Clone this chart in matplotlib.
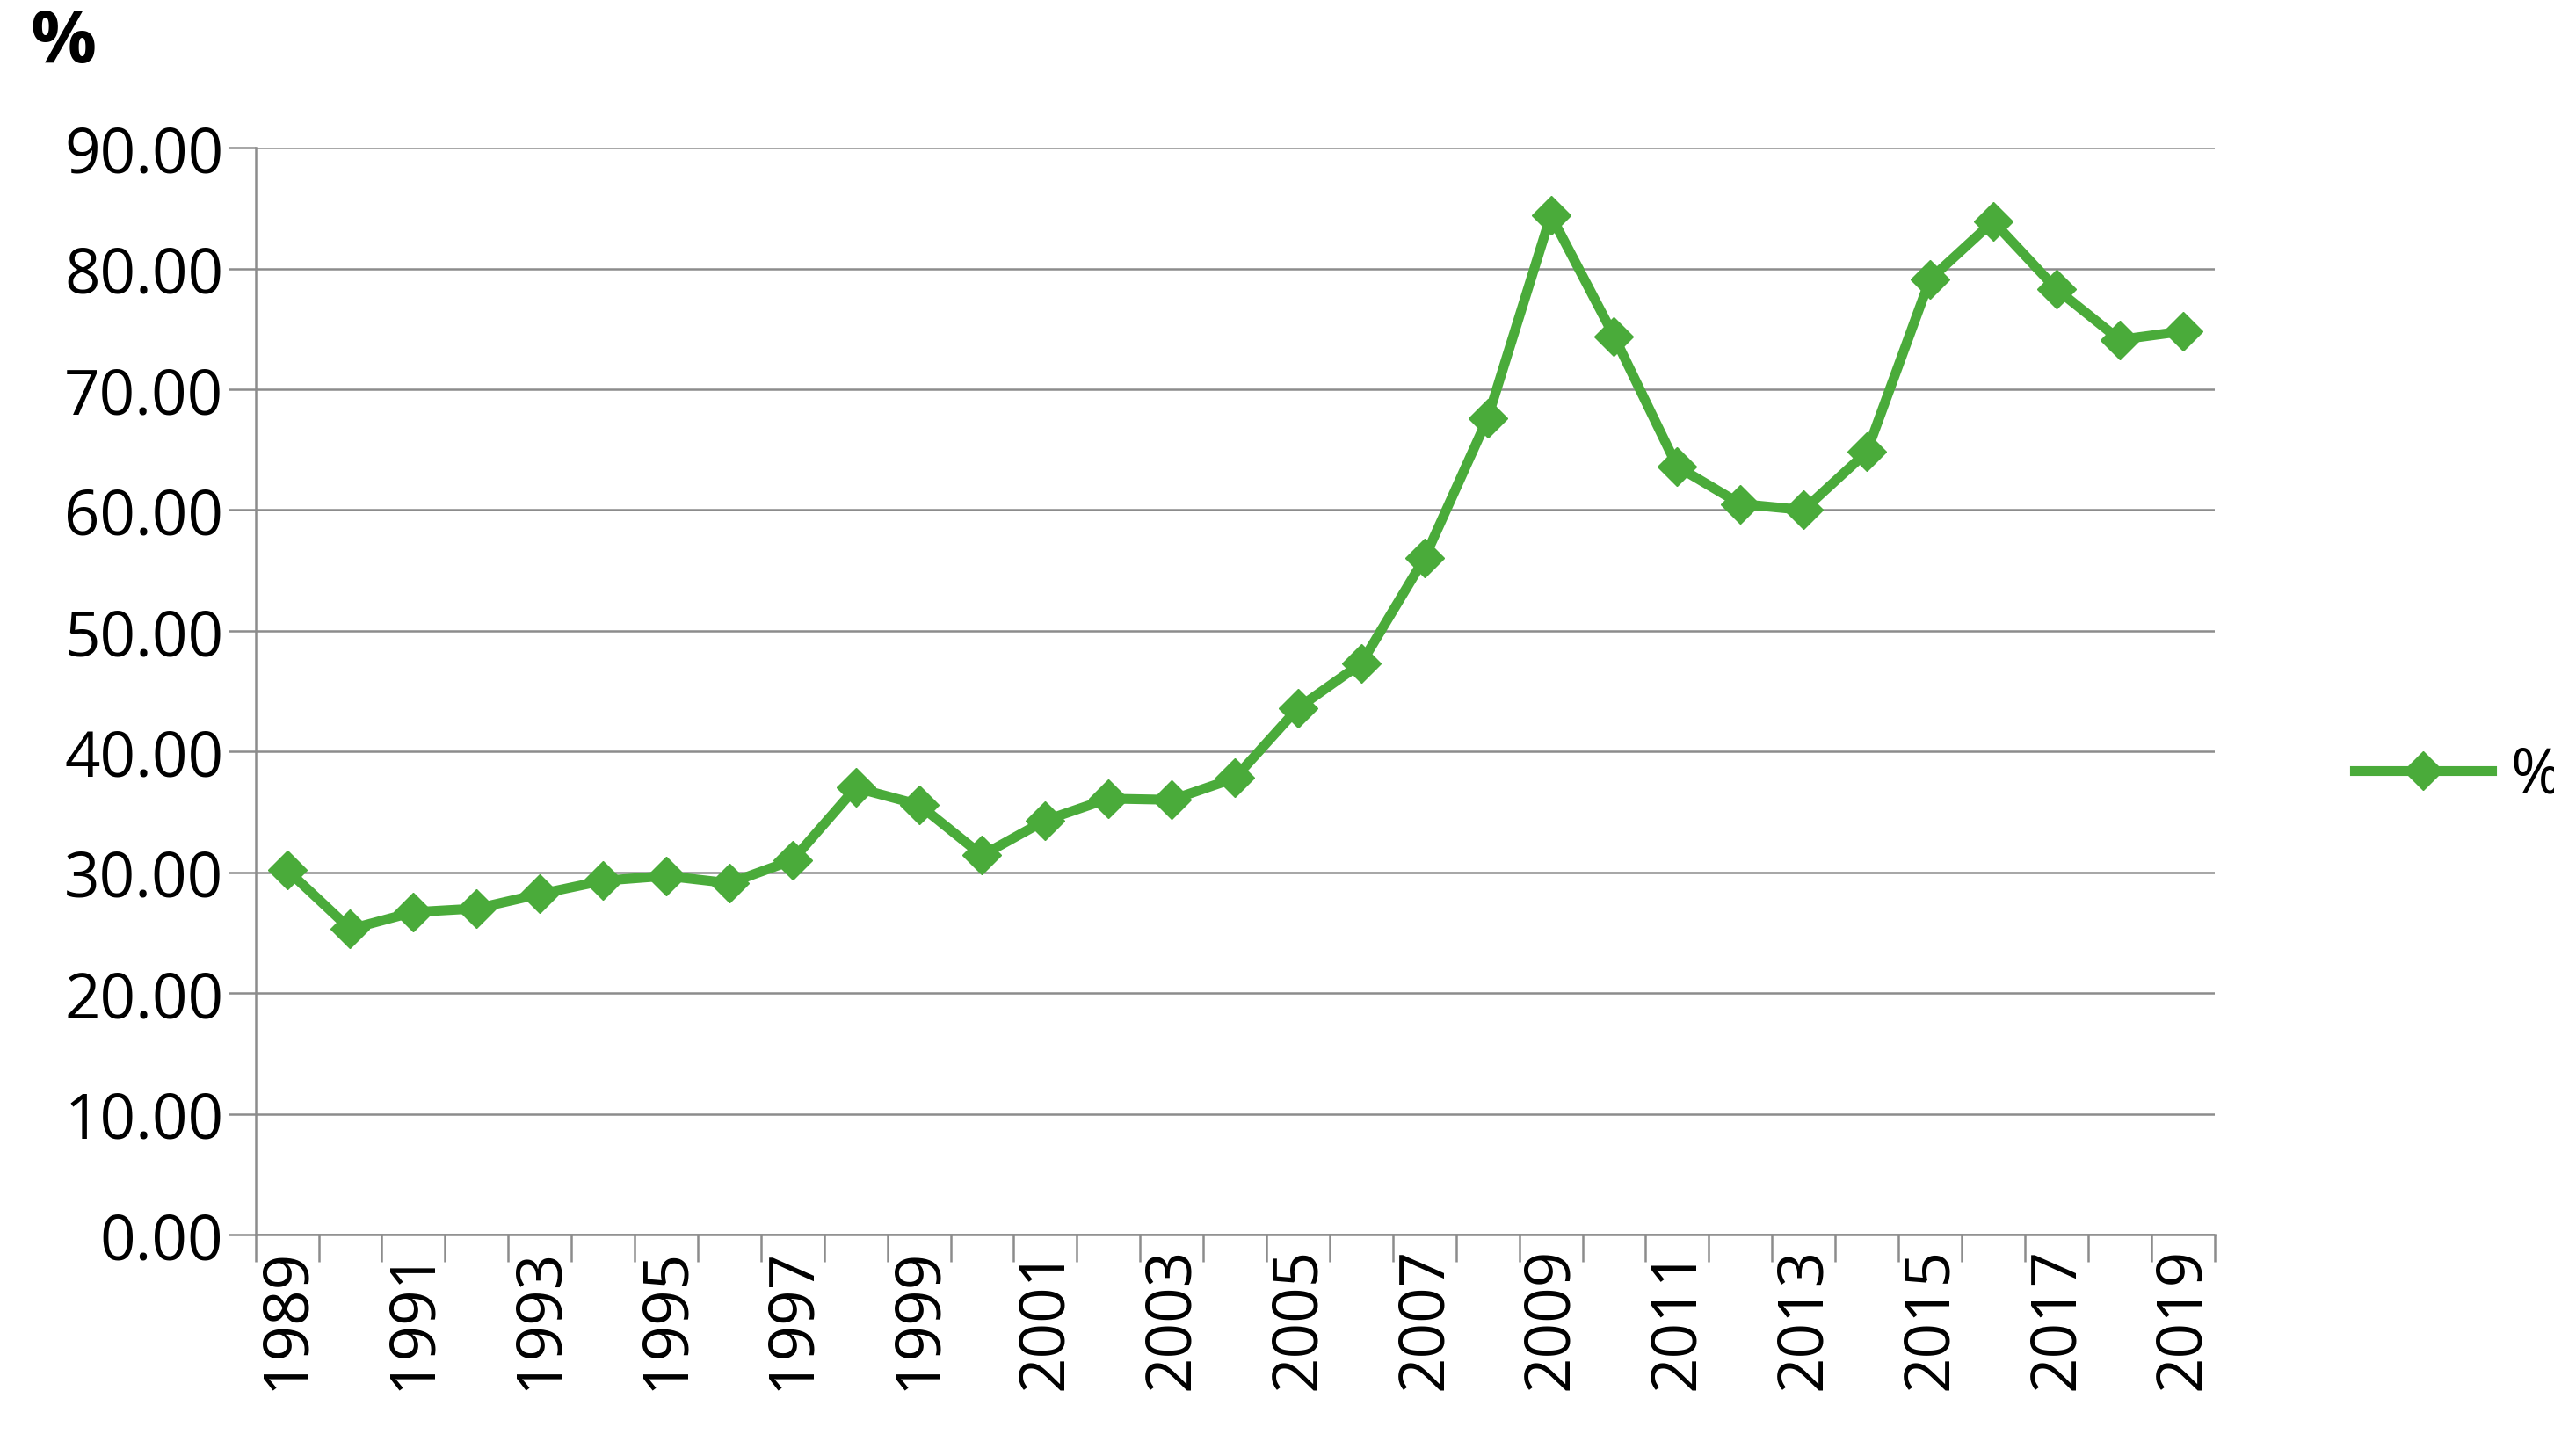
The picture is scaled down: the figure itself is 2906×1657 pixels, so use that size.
import matplotlib
matplotlib.use("Agg")
import matplotlib.pyplot as plt
import numpy as np

years = list(range(1989, 2020))
values = [30.2, 25.3, 26.7, 27.0, 28.2, 29.3, 29.7, 29.1, 31.0, 37.0, 35.6, 31.4,
          34.3, 36.1, 36.0, 37.8, 43.6, 47.3, 56.0, 67.6, 84.4, 74.4, 63.6, 60.5,
          60.0, 64.8, 79.1, 83.9, 78.3, 74.1, 74.8]
yticks = [0, 10, 20, 30, 40, 50, 60, 70, 80, 90]

plt.rcParams['font.family'] = ['Open Sans', 'DejaVu Sans']
fig = plt.figure(figsize=(29.06, 16.58), dpi=100)
ax = fig.add_axes([0.100, 0.152, 0.767, 0.746])
green = '#4aab3a'
x = np.arange(len(years))
ax.plot(x, values, color=green, lw=8, marker='D', ms=22, label='%', zorder=3)
ax.set_xlim(-0.5, len(years) - 0.5)
ax.set_ylim(0, 90)
ax.set_yticks(yticks)
ax.set_yticklabels([f"{v:.2f}" for v in yticks], fontsize=51)
ax.yaxis.grid(True, color='#8c8c8c', lw=1.8)
ax.set_axisbelow(True)
ax.set_xticks(x[::2])
ax.set_xticklabels([str(y) for y in years[::2]], rotation=90, fontsize=51)
ax.set_xticks(np.arange(-0.5, len(years), 1), minor=True)
ax.tick_params(axis='x', which='major', length=0, pad=10)
ax.tick_params(axis='x', which='minor', length=22, width=1.8, color='#8c8c8c')
ax.tick_params(axis='y', length=22, width=1.8, color='#8c8c8c', pad=4)
for s in ['top', 'right']:
    ax.spines[s].set_visible(False)
for s in ['left', 'bottom']:
    ax.spines[s].set_color('#8c8c8c')
    ax.spines[s].set_linewidth(1.8)
fig.text(0.012, 0.945, '%', fontsize=60, fontweight='bold', ha='left', va='bottom')
fig.legend(loc='center left', bbox_to_anchor=(0.9, 0.467), frameon=False,
           fontsize=51, handlelength=2.2, handletextpad=0.3)
fig.savefig('out.png', dpi=100)
